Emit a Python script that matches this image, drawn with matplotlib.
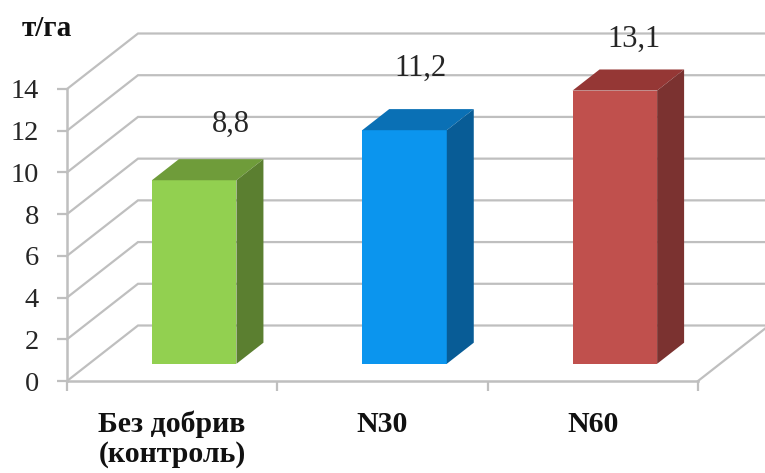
import matplotlib
matplotlib.use("Agg")
import matplotlib.pyplot as plt
from matplotlib.patches import Polygon

categories = ["Без добрив\n(контроль)", "N30", "N60"]
values = [8.8, 11.2, 13.1]
value_labels = ["8,8", "11,2", "13,1"]
y_ticks = [0, 2, 4, 6, 8, 10, 12, 14]
unit_label = "т/га"

front_colors = ["#92D050", "#0B95EE", "#C0504D"]
top_colors = ["#6F9C3A", "#0A70B5", "#953735"]
side_colors = ["#5B7F30", "#085C96", "#7B3230"]
label_offsets_pt = [(17, 33), (2, 37), (4, 29)]

W, H = 765, 473
L, R, B, T = 67, 698, 381, 89
GRID = "#BFBFBF"
TEXT = "#262626"
plt.rcParams["font.family"] = ["Liberation Serif", "DejaVu Serif"]

fig = plt.figure(figsize=(W / 100, H / 100), dpi=100)
ax = fig.add_axes([L / W, (H - B) / H, (R - L) / W, (B - T) / H])
ax.set_xlim(0, 3)
ax.set_ylim(0, 14)
ax.patch.set_visible(False)

# Oblique depth vector in data units (full depth of the chart box)
DX = 71 / ((R - L) / 3)
DY = 55.5 / ((B - T) / 14)


def proj(x, y, d):
    return x + DX * d, y + DY * d


# Back wall and side-wall gridlines
xmax_back = proj(3, 0, 1)[0]
for v in y_ticks:
    x0, y0 = proj(0, v, 1)
    ax.plot([0, x0, xmax_back], [v, y0, y0], color=GRID, lw=1.6, clip_on=False,
            zorder=1, solid_joinstyle="miter")
# Floor right edge
x1, y1 = proj(3, 0, 1)
ax.plot([3, x1], [0, y1], color=GRID, lw=1.6, clip_on=False, zorder=1)

# 3D bars
BAR_W = 0.402
D0, D1 = 0.31, 0.69
for i, v in enumerate(values):
    xl = i + 0.5 - BAR_W / 2
    xr = i + 0.5 + BAR_W / 2
    fl = proj(xl, 0, D0)
    fr = proj(xr, 0, D0)
    tl = proj(xl, v, D0)
    tr = proj(xr, v, D0)
    bl_t = proj(xl, v, D1)
    br_t = proj(xr, v, D1)
    br_b = proj(xr, 0, D1)
    ax.add_patch(Polygon([fl, fr, tr, tl], fc=front_colors[i], ec="none", zorder=3, clip_on=False))
    ax.add_patch(Polygon([tl, tr, br_t, bl_t], fc=top_colors[i], ec="none", zorder=3, clip_on=False))
    ax.add_patch(Polygon([fr, br_b, br_t, tr], fc=side_colors[i], ec="none", zorder=3, clip_on=False))
    ax.annotate(value_labels[i], xy=proj(i + 0.5, v, 0.5), xytext=label_offsets_pt[i],
                textcoords="offset points", ha="center", va="center", fontsize=22,
                color=TEXT, zorder=4, annotation_clip=False)

# Axes
for s in ["top", "right"]:
    ax.spines[s].set_visible(False)
for s in ["left", "bottom"]:
    ax.spines[s].set_color(GRID)
    ax.spines[s].set_linewidth(1.8)
    ax.spines[s].set_zorder(2)

ax.set_yticks(y_ticks)
ax.set_yticklabels([str(t) for t in y_ticks], fontsize=20.5, color=TEXT)
ax.tick_params(axis="y", length=7, width=1.6, color=GRID, pad=13)
ax.set_xticks([0, 1, 2, 3])
ax.set_xticklabels([])
ax.tick_params(axis="x", which="major", length=7, width=1.6, color=GRID)
ax.set_xticks([0.5, 1.5, 2.5], minor=True)
ax.set_xticklabels(categories, minor=True, fontsize=21.5, fontweight="bold", color="#111111",
                   linespacing=1.12, va="top")
ax.tick_params(axis="x", which="minor", length=0, pad=21.5)

fig.text(47 / W, 1 - 29 / H, unit_label, ha="center", va="center", fontsize=21,
         fontweight="bold", color="#111111")

fig.savefig("out.png", dpi=100)
